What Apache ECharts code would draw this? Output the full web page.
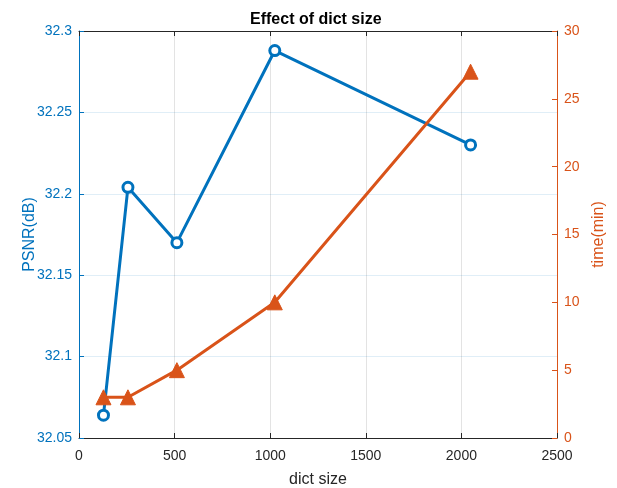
<!DOCTYPE html>
<html>
<head>
<meta charset="utf-8">
<script src="https://cdn.jsdelivr.net/npm/echarts@6/dist/echarts.min.js"></script>
<style>
  html, body { margin: 0; padding: 0; background: #fff; }
  #chart { width: 617px; height: 488px; }
</style>
</head>
<body>
<div id="chart"></div>
<script>
// dict sizes
const dictSize = [128, 256, 512, 1024, 2048];
// PSNR (dB), left axis
const psnr = [32.064, 32.204, 32.170, 32.288, 32.230];
// run time (min), right axis
const timeMin = [3, 3, 5, 10, 27];

const blue = '#0072BD';
const orange = '#D95319';
const dark = '#262626';
const font = '"Liberation Sans", Arial, sans-serif';

const chart = echarts.init(document.getElementById('chart'));

const option = {
  animation: false,
  textStyle: { fontFamily: font },
  title: {
    text: 'Effect of dict size',
    left: 245, top: 7,
    textStyle: { fontSize: 16, fontWeight: 'bold', color: '#000', fontFamily: font }
  },
  grid: { left: 79, right: 60, top: 31, bottom: 50, outerBoundsMode: 'none', containLabel: false },
  xAxis: [
    {
      type: 'value', min: 0, max: 2500, interval: 500,
      name: 'dict size', nameLocation: 'middle', nameGap: 34,
      nameTextStyle: { fontSize: 16, color: dark },
      axisLine: { show: true, onZero: false, lineStyle: { color: dark, width: 1 } },
      axisTick: { inside: true, length: 5, lineStyle: { color: dark } },
      axisLabel: { fontSize: 14, color: dark, margin: 11, formatter: v => String(v) },
      splitLine: { show: true, lineStyle: { color: 'rgba(38,38,38,0.13)' } }
    },
    {
      type: 'value', min: 0, max: 2500, interval: 500, position: 'top',
      axisLine: { show: true, onZero: false, lineStyle: { color: dark, width: 1 } },
      axisTick: { inside: true, length: 5, lineStyle: { color: dark } },
      axisLabel: { show: false },
      splitLine: { show: false }
    }
  ],
  yAxis: [
    {
      type: 'value', min: 32.05, max: 32.3, interval: 0.05,
      name: 'PSNR(dB)', nameLocation: 'middle', nameGap: 41, nameMoveOverlap: false,
      nameTextStyle: { fontSize: 16, color: blue },
      axisLine: { show: true, onZero: false, lineStyle: { color: blue, width: 1 } },
      axisTick: { show: true, inside: true, length: 5, lineStyle: { color: blue } },
      axisLabel: {
        fontSize: 14, color: blue, margin: 7,
        formatter: v => String(parseFloat(v.toFixed(2)))
      },
      splitLine: { show: true, lineStyle: { color: 'rgba(0,114,189,0.12)' } }
    },
    {
      type: 'value', min: 0, max: 30, interval: 5, position: 'right',
      name: 'time(min)', nameLocation: 'middle', nameGap: 32, nameRotate: 90,
      nameTextStyle: { fontSize: 16, color: orange },
      axisLine: { show: true, onZero: false, lineStyle: { color: orange, width: 1 } },
      axisTick: { show: true, inside: true, length: 5, lineStyle: { color: orange } },
      axisLabel: { fontSize: 14, color: orange, margin: 7 },
      splitLine: { show: false }
    }
  ],
  series: [
    {
      name: 'PSNR', type: 'line', xAxisIndex: 0, yAxisIndex: 0,
      data: dictSize.map((x, i) => [x, psnr[i]]),
      lineStyle: { color: blue, width: 3 },
      symbol: 'circle', symbolSize: 10,
      itemStyle: { color: '#fff', borderColor: blue, borderWidth: 3 }
    },
    {
      name: 'time', type: 'line', xAxisIndex: 0, yAxisIndex: 1,
      data: dictSize.map((x, i) => [x, timeMin[i]]),
      lineStyle: { color: orange, width: 3 },
      symbol: 'triangle', symbolSize: 15,
      itemStyle: { color: orange, borderColor: orange, borderWidth: 1 }
    }
  ]
};

chart.setOption(option);
</script>
</body>
</html>
